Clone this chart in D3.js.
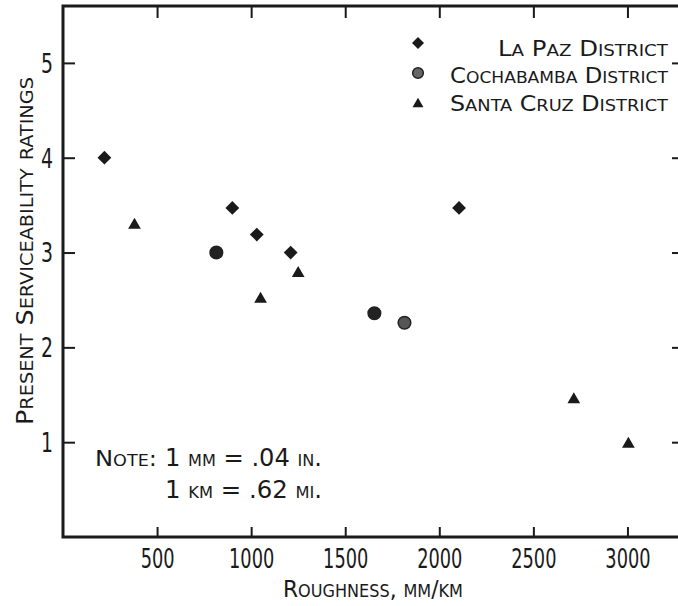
<!DOCTYPE html>
<html>
<head>
<meta charset="utf-8">
<script src="https://cdn.jsdelivr.net/npm/d3@7"></script>
<style>
  body { margin: 0; background: #fff; }
  svg { display: block; }
  text { font-family: "DejaVu Sans Condensed", "Liberation Sans Narrow", sans-serif; fill: #1a1a1a; }
</style>
</head>
<body>
<div id="chart"></div>
<script>
// data
var laPazX = [220, 900, 1030, 1210, 2105];
var laPazY = [4.0, 3.47, 3.19, 3.0, 3.47];
var cochaX = [815, 1655, 1815];
var cochaY = [3.0, 2.36, 2.26];
var santaX = [380, 1050, 1250, 2715, 3005];
var santaY = [3.29, 2.51, 2.78, 1.45, 0.98];

var xTicks = [500, 1000, 1500, 2000, 2500, 3000];
var yTicks = [1, 2, 3, 4, 5];
var legendNames = ["La Paz District", "Cochabamba District", "Santa Cruz District"];

var width = 678, height = 606;
var plotL = 63, plotR = 682, plotT = 6, plotB = 537;
var ink = "#1a1a1a";
var font = "'DejaVu Sans Condensed', sans-serif";

var svg = d3.select("#chart").append("svg")
  .attr("width", width)
  .attr("height", height);

var x = d3.scaleLinear().domain([0, 3290]).range([plotL, plotR]);
var y = d3.scaleLinear().domain([0, 5.6]).range([plotB, plotT]);

// small caps by hand: capitals big, lower case letters drawn as smaller capitals
function smallCaps(textSel, str, big, small) {
  var runs = [];
  str.split("").forEach(function(ch) {
    var isSmall = ch !== ch.toUpperCase();
    if (runs.length && runs[runs.length - 1].small === isSmall) {
      runs[runs.length - 1].s += ch;
    } else {
      runs.push({ s: ch, small: isSmall });
    }
  });
  runs.forEach(function(r) {
    textSel.append("tspan")
      .attr("font-size", r.small ? small : big)
      .text(r.s.toUpperCase());
  });
  return textSel;
}

// axes, ticks pointing inward
var xAxisBot = d3.axisBottom(x).tickValues(xTicks).tickSize(-10).tickPadding(0).tickFormat(d3.format("d"));
var xAxisTop = d3.axisTop(x).tickValues(xTicks).tickSize(-12).tickFormat("");
var yAxisLeft = d3.axisLeft(y).tickValues(yTicks).tickSize(-12).tickPadding(10).tickFormat(d3.format("d"));
var yAxisRight = d3.axisRight(y).tickValues(yTicks).tickSize(-10).tickFormat("");

var gxb = svg.append("g").attr("transform", "translate(0," + plotB + ")").call(xAxisBot);
var gxt = svg.append("g").attr("transform", "translate(0," + plotT + ")").call(xAxisTop);
var gyl = svg.append("g").attr("transform", "translate(" + plotL + ",0)").call(yAxisLeft);
var gyr = svg.append("g").attr("transform", "translate(" + plotR + ",0)").call(yAxisRight);

[gxb, gxt, gyl, gyr].forEach(function(g) {
  g.select(".domain").remove();
  g.selectAll(".tick line").attr("stroke", ink).attr("stroke-width", 2);
  g.selectAll("text")
    .attr("font-family", font)
    .attr("font-size", 26)
    .attr("fill", ink);
});
// tall narrow lettering: squeeze the digits
gxb.selectAll("text")
  .attr("dy", null).attr("y", 31)
  .attr("textLength", function(d) { return String(d).length * 11.3; })
  .attr("lengthAdjust", "spacingAndGlyphs");
gyl.selectAll("text")
  .attr("dy", "0.36em")
  .attr("textLength", 12)
  .attr("lengthAdjust", "spacingAndGlyphs");

// frame
svg.append("rect")
  .attr("x", plotL).attr("y", plotT)
  .attr("width", plotR - plotL).attr("height", plotB - plotT)
  .attr("fill", "none")
  .attr("stroke", ink)
  .attr("stroke-width", 3);

// points
var diamond = d3.symbol().type(d3.symbolSquare).size(95);
var circle = d3.symbol().type(d3.symbolCircle).size(125);
var triangle = d3.symbol().type(d3.symbolTriangle).size(70);

svg.append("g").selectAll("path").data(laPazX).enter().append("path")
  .attr("d", diamond)
  .attr("transform", function(d, i) { return "translate(" + x(d) + "," + y(laPazY[i]) + ") rotate(45)"; })
  .attr("fill", ink);

svg.append("g").selectAll("path").data(cochaX).enter().append("path")
  .attr("d", circle)
  .attr("transform", function(d, i) { return "translate(" + x(d) + "," + y(cochaY[i]) + ")"; })
  .attr("fill", function(d, i) { return i === 2 ? "#555" : "#222"; })
  .attr("stroke", "#222")
  .attr("stroke-width", 1.5);

svg.append("g").selectAll("path").data(santaX).enter().append("path")
  .attr("d", triangle)
  .attr("transform", function(d, i) { return "translate(" + x(d) + "," + y(santaY[i]) + ")"; })
  .attr("fill", ink);

// legend
var legendMarks = [
  { sym: d3.symbol().type(d3.symbolSquare).size(72), rot: 45, fill: ink },
  { sym: d3.symbol().type(d3.symbolCircle).size(90), rot: 0, fill: "#666" },
  { sym: d3.symbol().type(d3.symbolTriangle).size(52), rot: 0, fill: ink }
];
var legendMarkY = [43, 73, 104];
var legendBase = [56, 83, 111];
var legendStart = [498, 450, 450];
var legendEnd = 668;

legendNames.forEach(function(name, i) {
  svg.append("path")
    .attr("d", legendMarks[i].sym)
    .attr("transform", "translate(418," + legendMarkY[i] + ") rotate(" + legendMarks[i].rot + ")")
    .attr("fill", legendMarks[i].fill)
    .attr("stroke", i === 1 ? "#222" : "none")
    .attr("stroke-width", 1.5);
  var t = svg.append("text")
    .attr("x", legendStart[i])
    .attr("y", legendBase[i])
    .attr("textLength", legendEnd - legendStart[i])
    .attr("lengthAdjust", "spacingAndGlyphs");
  smallCaps(t, name, 22, 16.5);
});

// axis titles
var xt = svg.append("text")
  .attr("x", 283).attr("y", 597)
  .attr("textLength", 180)
  .attr("lengthAdjust", "spacingAndGlyphs");
smallCaps(xt, "Roughness, mm/km", 23, 17);

var yt = svg.append("text")
  .attr("transform", "translate(33,425) rotate(-90)")
  .attr("x", 0).attr("y", 0)
  .attr("textLength", 348)
  .attr("lengthAdjust", "spacingAndGlyphs");
smallCaps(yt, "Present Serviceability ratings", 23, 17.5);

// note
var n1 = svg.append("text").attr("x", 95).attr("y", 466)
  .attr("textLength", 62).attr("lengthAdjust", "spacingAndGlyphs");
smallCaps(n1, "Note:", 22, 16);
var n2 = svg.append("text").attr("x", 165).attr("y", 466)
  .attr("textLength", 157).attr("lengthAdjust", "spacingAndGlyphs");
smallCaps(n2, "1 mm = .04 in.", 24, 16);
var n3 = svg.append("text").attr("x", 165).attr("y", 498)
  .attr("textLength", 157).attr("lengthAdjust", "spacingAndGlyphs");
smallCaps(n3, "1 km = .62 mi.", 24, 16);
</script>
</body>
</html>
